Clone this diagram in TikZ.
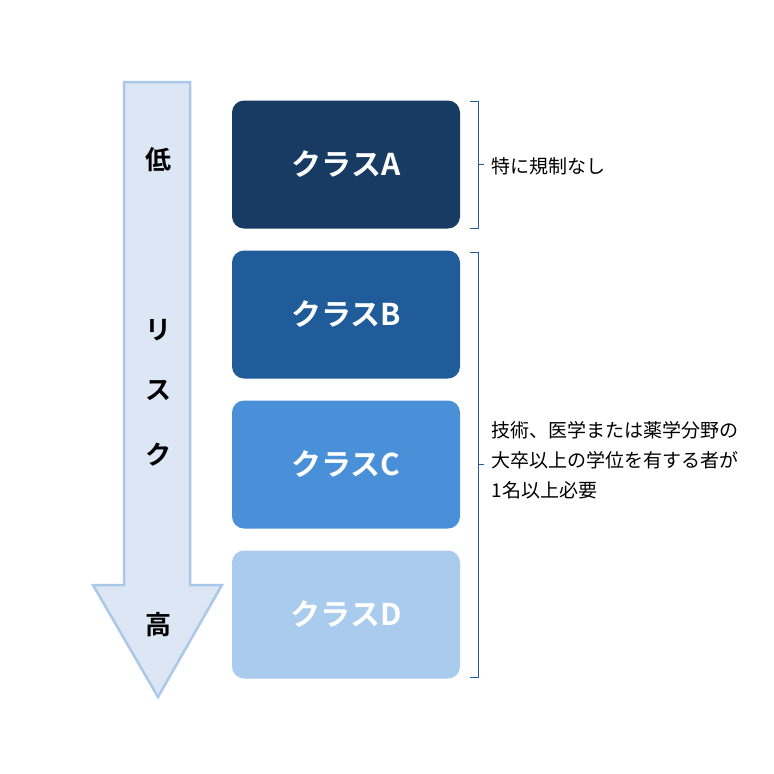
\documentclass[tikz,border=0pt]{standalone}
\usepackage{fontspec}
\newfontfamily\jp{Noto Sans CJK JP}
\newfontfamily\jpb{Noto Sans CJK JP Bold}
\definecolor{ca}{HTML}{173B62}
\definecolor{cb}{HTML}{1F5C99}
\definecolor{cc}{HTML}{4A90D9}
\definecolor{cd}{HTML}{A9CBEE}
\definecolor{afill}{HTML}{DCE6F4}
\definecolor{aline}{HTML}{A9C8EA}
\tikzset{cls/.style={rounded corners=12pt,minimum width=228pt,minimum height=128pt,text=white,font=\jpb\fontsize{30}{32}\selectfont,inner sep=0pt},
 brc/.style={draw=cb,line width=0.9pt},
 rl/.style={font=\jpb\fontsize{26}{28}\selectfont},
 tx/.style={font=\jp\fontsize{19}{30}\selectfont,anchor=west,align=left}}
\begin{document}
\begin{tikzpicture}[x=1pt,y=-1pt]
\useasboundingbox (0,0) rectangle (774,774);
\fill[white] (0,0) rectangle (774,774);
\draw[aline,fill=afill,line width=2.5pt] (124,82) -- (190,82) -- (190,585) -- (222,585) -- (158,697) -- (93,585) -- (124,585) -- cycle;
\node[rl] (l1) at (158,160) {低};
\node[rl] (l2) at (158,330) {リ};
\node[rl] (l3) at (158,390) {ス};
\node[rl] (l4) at (158,455) {ク};
\node[rl] (l5) at (158,625) {高};
\node[cls,fill=ca] (a) at (346,164.5) {クラスA};
\node[cls,fill=cb] (b) at (346,314.5) {クラスB};
\node[cls,fill=cc] (c) at (346,464.5) {クラスC};
\node[cls,fill=cd] (d) at (346,614.5) {クラスD};
\draw[brc] (470,101) -- (478,101) -- (478,228) -- (470,228);
\draw[brc] (478,164) -- (484,164);
\draw[brc] (470,252) -- (478,252) -- (478,677) -- (470,677);
\draw[brc] (478,464) -- (484,464);
\node[tx] (ta) at (488,166) {特に規制なし};
\node[tx] (tb) at (488,460) {技術、医学または薬学分野の\\大卒以上の学位を有する者が\\1名以上必要};
\end{tikzpicture}
\end{document}
